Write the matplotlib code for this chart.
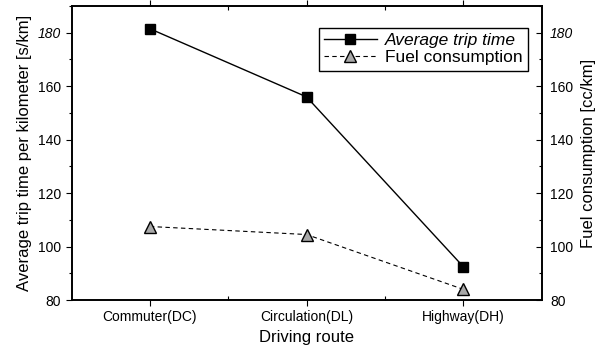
import matplotlib
matplotlib.use("Agg")
import matplotlib.pyplot as plt
from matplotlib.ticker import MultipleLocator, FixedLocator

plt.rcParams['font.family'] = ['Liberation Sans', 'DejaVu Sans']

routes = ["Commuter(DC)", "Circulation(DL)", "Highway(DH)"]
trip_time = [181.5, 156.0, 92.5]
fuel = [107.5, 104.5, 84.0]
y_ticks = [80, 100, 120, 140, 160, 180]

fig = plt.figure(figsize=(5.98, 3.49), dpi=100)
ax = fig.add_axes([0.1196, 0.1404, 0.786, 0.8424])
x = list(range(len(routes)))

ax.plot(x, trip_time, color='black', lw=1.0, marker='s', markersize=7.5,
        markerfacecolor='black', markeredgecolor='black', label='Average trip time')
ax.plot(x, fuel, color='black', lw=0.8, ls=(0, (4, 3)), marker='^', markersize=8.5,
        markerfacecolor='#a8a8a8', markeredgecolor='black', markeredgewidth=1.0,
        label='Fuel consumption')

ax.set_xlim(-0.5, 2.5)
ax.set_ylim(80, 190)
ax.set_xticks(x)
ax.set_xticklabels(routes, fontsize=10)
ax.xaxis.set_minor_locator(FixedLocator([0.5, 1.5]))
ax.set_yticks(y_ticks)
ax.yaxis.set_minor_locator(MultipleLocator(10))
ax.tick_params(axis='y', which='major', direction='out', length=4, labelsize=10, width=0.8)
ax.tick_params(axis='y', which='minor', direction='out', length=2.5, width=0.8)
ax.tick_params(axis='x', which='major', direction='out', length=4, labelsize=10, top=True, width=0.8)
ax.tick_params(axis='x', which='minor', direction='in', length=3, top=True, width=0.8)
for t in ax.get_yticklabels():
    if t.get_text() == '180':
        t.set_style('italic')

ax.set_xlabel('Driving route', fontsize=12, labelpad=4)
ax.set_ylabel('Average trip time per kilometer [s/km]', fontsize=12, labelpad=4)

ax2 = ax.twinx()
ax2.set_ylim(80, 190)
ax2.set_yticks(y_ticks)
ax2.yaxis.set_minor_locator(MultipleLocator(10))
ax2.tick_params(axis='y', which='major', direction='in', length=4, labelsize=10, width=0.8, pad=6)
ax2.tick_params(axis='y', which='minor', direction='in', length=2.5, width=0.8)
for t in ax2.get_yticklabels():
    if t.get_text() == '180':
        t.set_style('italic')
ax2.set_ylabel('Fuel consumption [cc/km]', fontsize=12, labelpad=6)

for a in (ax, ax2):
    for s in a.spines.values():
        s.set_linewidth(1.2)

leg = ax.legend(loc='upper left', bbox_to_anchor=(0.527, 0.925), fontsize=12.5,
                frameon=True, fancybox=False, edgecolor='black', framealpha=1,
                handlelength=3.0, borderpad=0.3, labelspacing=0.1, handletextpad=0.5,
                borderaxespad=0)
leg.get_frame().set_linewidth(1.0)
leg.get_texts()[0].set_style('italic')

fig.savefig('out.png', dpi=100)
